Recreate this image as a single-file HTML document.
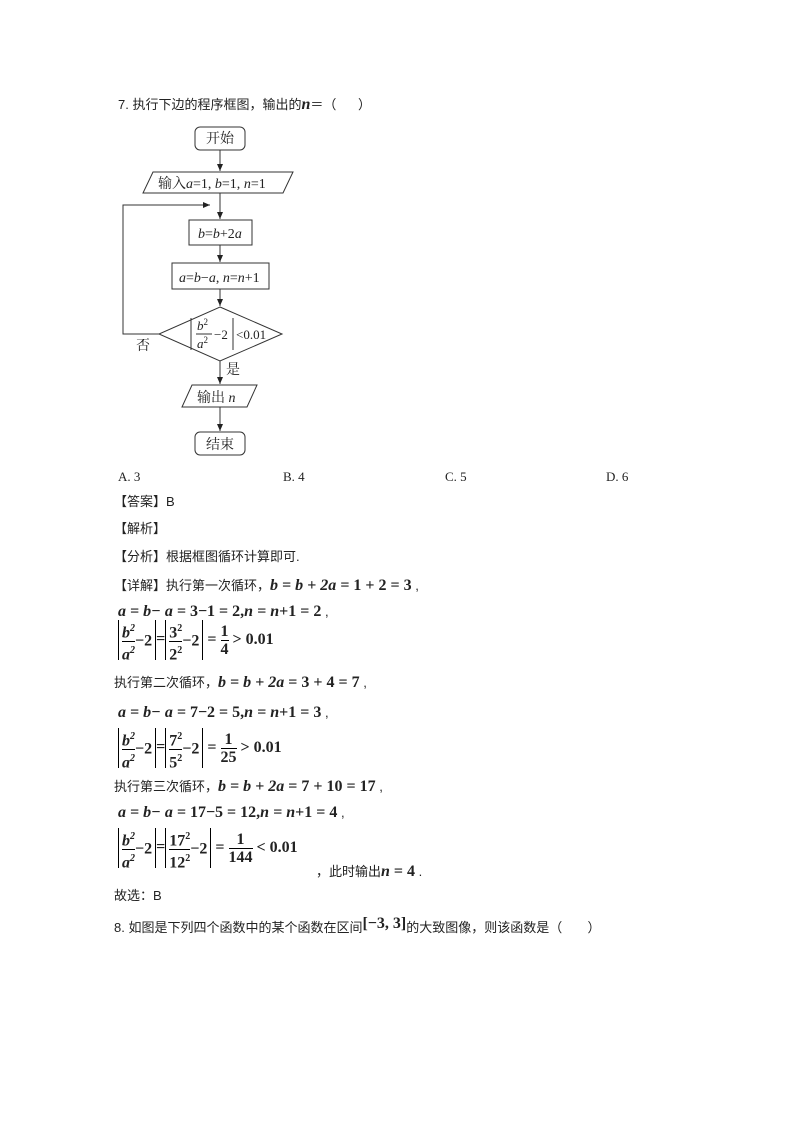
<!DOCTYPE html>
<html><head><meta charset="utf-8"><style>
body{margin:0;background:#fff;}
#p{position:relative;width:794px;height:1123px;overflow:hidden;font-family:"Liberation Sans","Noto Sans CJK SC",sans-serif;font-size:13px;color:#222;}
.t{position:absolute;white-space:nowrap;line-height:16px;}
.m{font-family:"Liberation Serif","Noto Serif CJK SC",serif;font-weight:bold;font-style:italic;font-size:16px;}
.n{font-style:normal;}
.fr{display:inline-block;vertical-align:middle;text-align:center;line-height:17px;}
.fr span{display:block;}
.fr .d{border-top:1.5px solid #000;}
.ab{display:inline-block;vertical-align:middle;border-left:1.5px solid #000;border-right:1.5px solid #000;padding:0 3px;height:40px;line-height:40px;}
.ab .fr{line-height:17px;}
</style></head><body><div id="p">
<div class="t" style="left:118px;top:97px">7. 执行下边的程序框图，输出的<span class="m">n</span>＝（&nbsp;&nbsp;&nbsp;&nbsp;&nbsp;&nbsp;）</div>
<svg width="794" height="470" style="position:absolute;left:0;top:0" font-family="Liberation Serif,Noto Serif CJK SC,serif" font-size="14">
<defs><marker id="a" markerWidth="8" markerHeight="8" refX="7" refY="4" orient="auto"><path d="M0,1 L7,4 L0,7z" fill="#222"/></marker></defs>
<g stroke="#333" stroke-width="1" fill="none">
<rect x="195" y="127" width="50" height="23" rx="5"/>
<line x1="220" y1="150" x2="220" y2="171" marker-end="url(#a)"/>
<polygon points="153,172 293,172 283,193 143,193"/>
<line x1="220" y1="193" x2="220" y2="219" marker-end="url(#a)"/>
<polyline points="159,334 123,334 123,205 210,205" marker-end="url(#a)"/>
<rect x="189" y="220" width="63" height="25"/>
<line x1="220" y1="245" x2="220" y2="262" marker-end="url(#a)"/>
<rect x="172" y="263" width="97" height="26"/>
<line x1="220" y1="289" x2="220" y2="306" marker-end="url(#a)"/>
<polygon points="220,307 282,334 220,361 159,334"/>
<line x1="191" y1="318" x2="191" y2="350"/><line x1="233" y1="318" x2="233" y2="350"/>
<line x1="196" y1="334" x2="212" y2="334"/>
<line x1="220" y1="361" x2="220" y2="384" marker-end="url(#a)"/>
<polygon points="192,385 257,385 247,407 182,407"/>
<line x1="220" y1="407" x2="220" y2="431" marker-end="url(#a)"/>
<rect x="195" y="432" width="50" height="23" rx="5"/>
</g>
<g fill="#222">
<text x="206" y="143">开始</text>
<text x="158" y="188">输入<tspan font-style="italic">a</tspan>=1, <tspan font-style="italic">b</tspan>=1, <tspan font-style="italic">n</tspan>=1</text>
<text x="198" y="238"><tspan font-style="italic">b</tspan>=<tspan font-style="italic">b</tspan>+2<tspan font-style="italic">a</tspan></text>
<text x="179" y="282"><tspan font-style="italic">a</tspan>=<tspan font-style="italic">b</tspan>−<tspan font-style="italic">a</tspan>, <tspan font-style="italic">n</tspan>=<tspan font-style="italic">n</tspan>+1</text>
<text x="197" y="330" font-size="13" font-style="italic">b<tspan font-size="9" dy="-5" font-style="normal">2</tspan></text>
<text x="197" y="348" font-size="13" font-style="italic">a<tspan font-size="9" dy="-5" font-style="normal">2</tspan></text>
<text x="214" y="339" font-size="13">−2</text>
<text x="236" y="339" font-size="13">&lt;0.01</text>
<text x="136" y="350">否</text>
<text x="226" y="374">是</text>
<text x="197" y="402">输出 <tspan font-style="italic">n</tspan></text>
<text x="206" y="449">结束</text>
</g></svg>
<div class="t" style="left:118px;top:469px;font-family:'Liberation Serif',serif">A. 3</div>
<div class="t" style="left:283px;top:469px;font-family:'Liberation Serif',serif">B. 4</div>
<div class="t" style="left:445px;top:469px;font-family:'Liberation Serif',serif">C. 5</div>
<div class="t" style="left:606px;top:469px;font-family:'Liberation Serif',serif">D. 6</div>
<div class="t" style="left:114px;top:494px">【答案】B</div>
<div class="t" style="left:114px;top:521px">【解析】</div>
<div class="t" style="left:114px;top:549px">【分析】根据框图循环计算即可.</div>
<div class="t" style="left:114px;top:578px">【详解】执行第一次循环，<span class="m">b = b + 2a = <span class="n">1 + 2 = 3</span></span> ,</div>
<div class="t" style="left:118px;top:604px"><span class="m">a = b− a = <span class="n">3−1 = 2,</span>n = n<span class="n">+1 = 2</span></span> ,</div>
<div class="t m" style="left:118px;top:620px;height:42px"><span class="ab"><span class="fr"><span>b<sup style="font-size:10px">2</sup></span><span class="d">a<sup style="font-size:10px">2</sup></span></span><span class="n">−2</span></span><span class="n">=</span><span class="ab n"><span class="fr"><span>3<sup style="font-size:10px">2</sup></span><span class="d">2<sup style="font-size:10px">2</sup></span></span>−2</span><span class="n"> = <span class="fr"><span>1</span><span class="d">4</span></span> &gt; 0.01</span></div>
<div class="t" style="left:114px;top:675px">执行第二次循环，<span class="m">b = b + 2a <span class="n">= 3 + 4 = 7</span></span> ,</div>
<div class="t" style="left:118px;top:705px"><span class="m">a = b− a = <span class="n">7−2 = 5,</span>n = n<span class="n">+1 = 3</span></span> ,</div>
<div class="t m" style="left:118px;top:728px;height:42px"><span class="ab"><span class="fr"><span>b<sup style="font-size:10px">2</sup></span><span class="d">a<sup style="font-size:10px">2</sup></span></span><span class="n">−2</span></span><span class="n">=</span><span class="ab n"><span class="fr"><span>7<sup style="font-size:10px">2</sup></span><span class="d">5<sup style="font-size:10px">2</sup></span></span>−2</span><span class="n"> = <span class="fr"><span>1</span><span class="d">25</span></span> &gt; 0.01</span></div>
<div class="t" style="left:114px;top:779px">执行第三次循环，<span class="m">b = b + 2a <span class="n">= 7 + 10 = 17</span></span> ,</div>
<div class="t" style="left:118px;top:805px"><span class="m">a = b− a = <span class="n">17−5 = 12,</span>n = n<span class="n">+1 = 4</span></span> ,</div>
<div class="t m" style="left:118px;top:828px;height:42px"><span class="ab"><span class="fr"><span>b<sup style="font-size:10px">2</sup></span><span class="d">a<sup style="font-size:10px">2</sup></span></span><span class="n">−2</span></span><span class="n">=</span><span class="ab n"><span class="fr"><span>17<sup style="font-size:10px">2</sup></span><span class="d">12<sup style="font-size:10px">2</sup></span></span>−2</span><span class="n"> = <span class="fr"><span>1</span><span class="d">144</span></span> &lt; 0.01</span></div>
<div class="t" style="left:316px;top:864px">，此时输出<span class="m">n <span class="n">= 4</span></span> .</div>
<div class="t" style="left:114px;top:888px">故选：B</div>
<div class="t" style="left:114px;top:920px">8. 如图是下列四个函数中的某个函数在区间<span class="m n" style="position:relative;top:-4px">[−3, 3]</span>的大致图像，则该函数是（&nbsp;&nbsp;&nbsp;&nbsp;&nbsp;&nbsp;&nbsp;）</div>
</div></body></html>
